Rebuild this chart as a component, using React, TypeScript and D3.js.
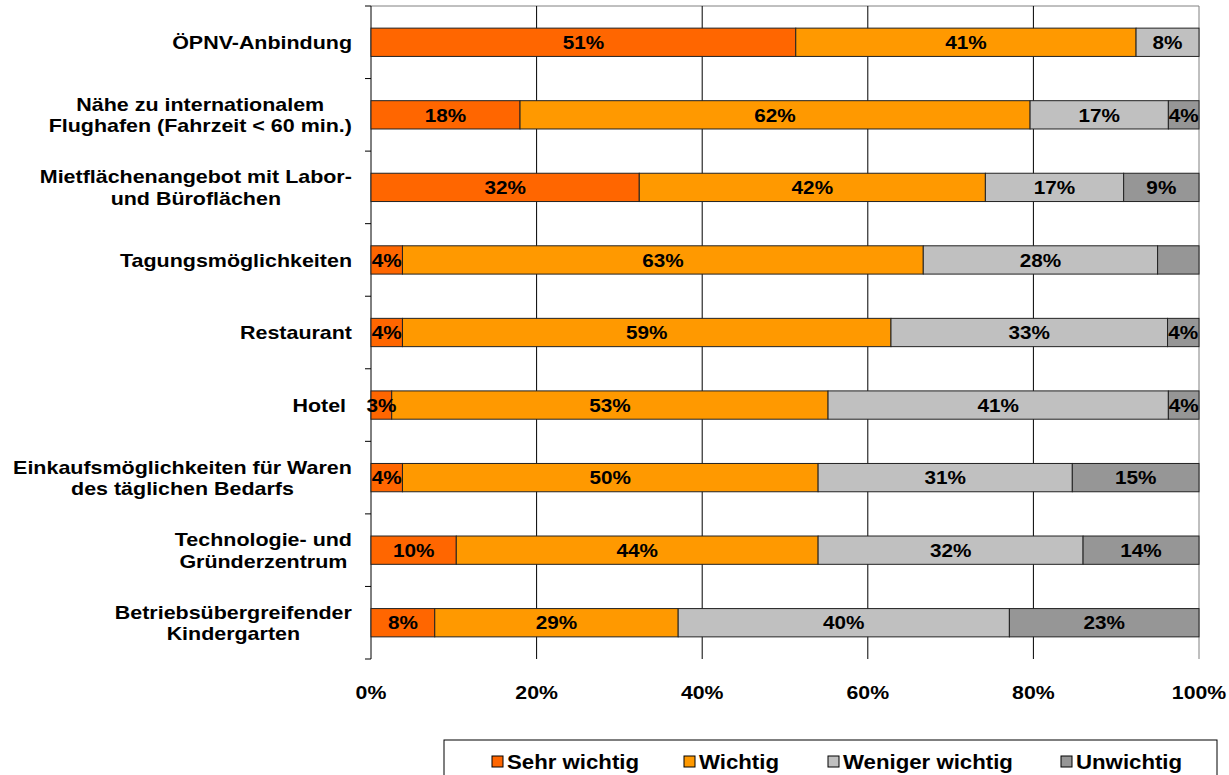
import React from "react";
import * as d3 from "d3";

const categories: string[][] = [
  ["ÖPNV-Anbindung"],
  ["Nähe zu internationalem", "Flughafen (Fahrzeit < 60 min.)"],
  ["Mietflächenangebot mit Labor-", "und Büroflächen"],
  ["Tagungsmöglichkeiten"],
  ["Restaurant"],
  ["Hotel\u00a0"],
  ["Einkaufsmöglichkeiten für Waren", "des täglichen Bedarfs"],
  ["Technologie- und", "Gründerzentrum"],
  ["Betriebsübergreifender", "Kindergarten"],
];

const seriesNames = ["Sehr wichtig", "Wichtig", "Weniger wichtig", "Unwichtig"];
const seriesColors = ["#FF6600", "#FF9900", "#C0C0C0", "#969696"];

const sehrWichtig = [51.3, 18.0, 32.4, 3.8, 3.8, 2.5, 3.8, 10.3, 7.7];
const wichtig = [41.1, 61.6, 41.8, 62.9, 59.0, 52.7, 50.2, 43.7, 29.4];
const wenigerWichtig = [7.6, 16.7, 16.7, 28.3, 33.4, 41.1, 30.7, 32.0, 40.0];
const unwichtig = [0, 3.7, 9.1, 5.0, 3.8, 3.7, 15.3, 14.0, 22.9];
// labels not shown in the reference: [row, series]
const hiddenLabels = [[0, 3], [3, 3]];

const xTicks = [0, 20, 40, 60, 80, 100];

const W = 1229;
const H = 775;
const left = 371;
const right = 1199;
const top = 6;
const bottom = 659;

const FONT = "'Liberation Sans', Arial, sans-serif";
const CAT_SIZE = 18.5;
const CAT_SX = 1.16;

let ctx: CanvasRenderingContext2D | null = null;
function measure(text: string, size: number): number {
  if (!ctx) {
    const c = document.createElement("canvas");
    ctx = c.getContext("2d");
  }
  if (!ctx) return text.length * size * 0.6;
  ctx.font = `bold ${size}px 'Liberation Sans', Arial, sans-serif`;
  return ctx.measureText(text).width;
}

function SText(props: {
  x: number;
  y: number;
  size: number;
  sx: number;
  anchor?: "start" | "middle" | "end";
  children: React.ReactNode;
}) {
  const { x, y, size, sx, anchor = "middle", children } = props;
  return (
    <text
      transform={`translate(${x},${y}) scale(${sx},1)`}
      textAnchor={anchor}
      dy="0.36em"
      fontSize={size}
      fontWeight="bold"
      fill="#000"
    >
      {children}
    </text>
  );
}

export default function App() {
  const x = d3.scaleLinear().domain([0, 100]).range([left, right]);
  const y = d3
    .scaleBand<number>()
    .domain(d3.range(categories.length))
    .range([top, bottom])
    .paddingInner(0.61)
    .paddingOuter(0.305);
  const bandStep = (bottom - top) / categories.length;

  const table = categories.map((_, i) => ({
    i,
    s0: sehrWichtig[i],
    s1: wichtig[i],
    s2: wenigerWichtig[i],
    s3: unwichtig[i],
  }));
  const stack = d3.stack<any>().keys(["s0", "s1", "s2", "s3"]);
  const stacked = stack(table);

  const isHidden = (r: number, s: number) =>
    hiddenLabels.some(([a, b]) => a === r && b === s);

  const legendItems = [
    { x: 492, name: seriesNames[0], color: seriesColors[0] },
    { x: 684, name: seriesNames[1], color: seriesColors[1] },
    { x: 828, name: seriesNames[2], color: seriesColors[2] },
    { x: 1061, name: seriesNames[3], color: seriesColors[3] },
  ];

  const labelRight = 352;
  const lh = 21.5;

  return (
    <svg
      width={W}
      height={H}
      style={{ position: "absolute", left: 0, top: 0 }}
      fontFamily={FONT}
    >
      <rect x={0} y={0} width={W} height={H} fill="#fff" />
      {/* plot border top/right */}
      <line x1={left} x2={right} y1={top} y2={top} stroke="#808080" strokeWidth={1} />
      <line x1={right} x2={right} y1={top} y2={bottom} stroke="#808080" strokeWidth={1} />
      {/* gridlines */}
      {xTicks.slice(1, -1).map((t) => (
        <line key={t} x1={x(t)} x2={x(t)} y1={top} y2={bottom} stroke="#000" strokeWidth={1} />
      ))}
      {/* y axis */}
      <line x1={left} x2={left} y1={top} y2={bottom} stroke="#000" strokeWidth={1} />
      {d3.range(categories.length + 1).map((k) => (
        <line
          key={k}
          x1={left - 6}
          x2={left}
          y1={top + k * bandStep}
          y2={top + k * bandStep}
          stroke="#000"
        />
      ))}
      {/* bars */}
      {stacked.map((layer, s) =>
        layer.map((d, r) => {
          const w = x(d[1]) - x(d[0]);
          if (w <= 0) return null;
          return (
            <rect
              key={`${s}-${r}`}
              x={x(d[0])}
              y={y(r)}
              width={w}
              height={y.bandwidth()}
              fill={seriesColors[s]}
              stroke="#222"
              strokeWidth={1}
            />
          );
        })
      )}
      {/* bar labels */}
      {stacked.map((layer, s) =>
        layer.map((d, r) => {
          const v = d[1] - d[0];
          if (v <= 0 || isHidden(r, s)) return null;
          return (
            <SText
              key={`l${s}-${r}`}
              x={(x(d[0]) + x(d[1])) / 2}
              y={(y(r) as number) + y.bandwidth() / 2}
              size={18.5}
              sx={1.12}
            >
              {Math.round(v)}%
            </SText>
          );
        })
      )}
      {/* category labels: block right-aligned, lines centered */}
      {categories.map((lines, i) => {
        const cy = (y(i) as number) + y.bandwidth() / 2;
        const widths = lines.map((l) => measure(l, CAT_SIZE) * CAT_SX);
        const maxW = Math.max(...widths);
        const cx = labelRight - maxW / 2;
        const start = cy - ((lines.length - 1) * lh) / 2;
        return (
          <g key={i}>
            {lines.map((ln, j) =>
              lines.length === 1 ? (
                <SText key={j} x={labelRight} y={start} size={CAT_SIZE} sx={CAT_SX} anchor="end">
                  {ln}
                </SText>
              ) : (
                <SText key={j} x={cx} y={start + j * lh} size={CAT_SIZE} sx={CAT_SX}>
                  {ln}
                </SText>
              )
            )}
          </g>
        );
      })}
      {/* x tick labels */}
      {xTicks.map((t) => (
        <SText key={t} x={x(t)} y={692} size={19} sx={1.12}>
          {t}%
        </SText>
      ))}
      {/* legend */}
      <rect x={444} y={740} width={773} height={50} fill="#fff" stroke="#000" strokeWidth={1} />
      {legendItems.map((it) => (
        <g key={it.name}>
          <rect x={it.x} y={756} width={11} height={11} fill={it.color} stroke="#000" strokeWidth={1} />
          <SText x={it.x + 15} y={762} size={19.5} sx={1.14} anchor="start">
            {it.name}
          </SText>
        </g>
      ))}
    </svg>
  );
}
